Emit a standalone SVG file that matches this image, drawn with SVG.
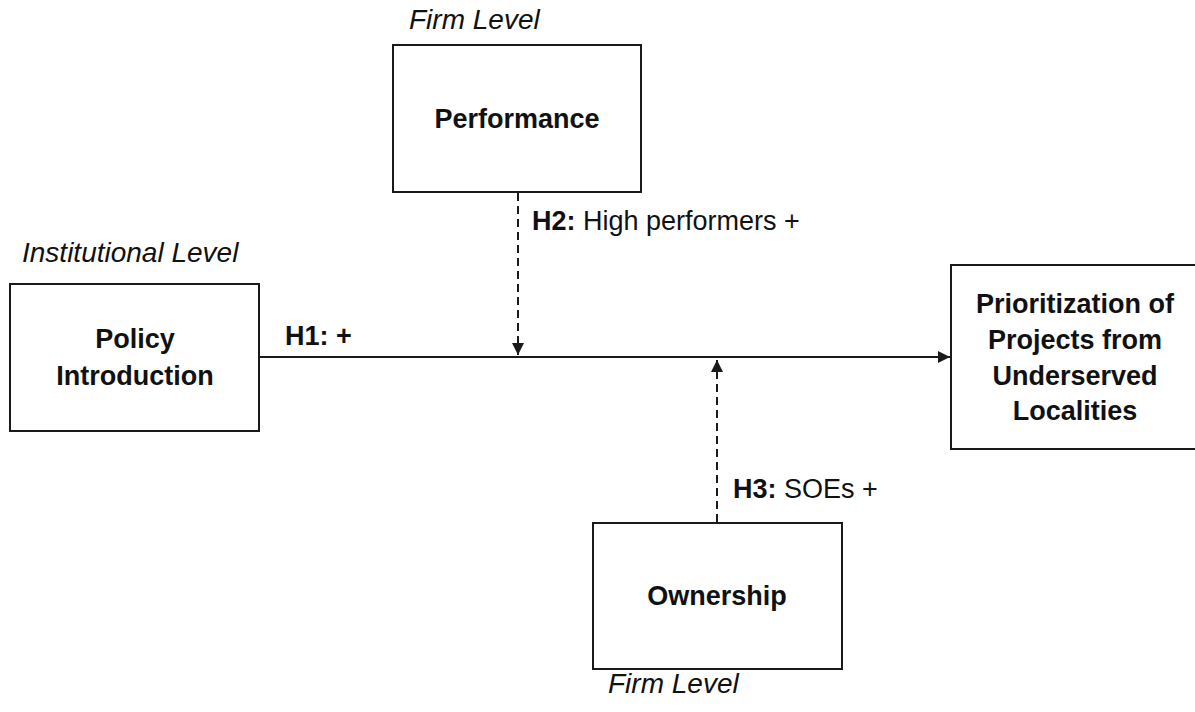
<svg xmlns="http://www.w3.org/2000/svg" width="1195" height="712" viewBox="0 0 1195 712">
  <style>
    .box { fill: #ffffff; stroke: #1a1a1a; stroke-width: 2; }
    .node { font-family: "Liberation Sans", Arial, sans-serif; font-weight: bold; font-size: 27px; fill: #111; text-anchor: middle; }
    .level { font-family: "Liberation Sans", Arial, sans-serif; font-style: italic; font-size: 28px; fill: #111; }
    .hyp { font-family: "Liberation Sans", Arial, sans-serif; font-size: 27px; fill: #111; }
    .hyp .b { font-weight: bold; }
    .solid { stroke: #1a1a1a; stroke-width: 2; fill: none; }
    .dash { stroke: #1a1a1a; stroke-width: 2; fill: none; stroke-dasharray: 8 5; }
  </style>
  <defs>
    <marker id="arrow" viewBox="0 0 10 10" refX="10" refY="5" markerWidth="6" markerHeight="6" markerUnits="strokeWidth" orient="auto">
      <path d="M0,0 L10,5 L0,10 z" fill="#1a1a1a"/>
    </marker>
  </defs>
  <rect width="1195" height="712" fill="#ffffff"/>

  <!-- connectors -->
  <g id="connectors">
    <line class="solid" x1="259" y1="357" x2="950" y2="357" marker-end="url(#arrow)"/>
    <line class="dash" x1="518" y1="193" x2="518" y2="355" marker-end="url(#arrow)"/>
    <line class="dash" x1="717" y1="522" x2="717" y2="360" marker-end="url(#arrow)"/>
  </g>

  <!-- hypothesis labels -->
  <g id="labels">
    <text class="hyp" x="285" y="345"><tspan class="b">H1: +</tspan></text>
    <text class="hyp" x="532" y="230"><tspan class="b">H2:</tspan> High performers +</text>
    <text class="hyp" x="733" y="498"><tspan class="b">H3:</tspan> SOEs +</text>
  </g>

  <g id="performance">
    <text class="level" x="409" y="29">Firm Level</text>
    <rect class="box" x="393" y="45" width="248" height="147"/>
    <text class="node" x="517" y="128">Performance</text>
  </g>

  <g id="policy">
    <text class="level" x="22" y="262">Institutional Level</text>
    <rect class="box" x="10" y="284" width="249" height="147"/>
    <text class="node" x="135" y="348">Policy</text>
    <text class="node" x="135" y="385">Introduction</text>
  </g>

  <g id="prioritization">
    <rect class="box" x="951" y="265" width="250" height="184"/>
    <text class="node" x="1075" y="313">Prioritization of</text>
    <text class="node" x="1075" y="349">Projects from</text>
    <text class="node" x="1075" y="385">Underserved</text>
    <text class="node" x="1075" y="420">Localities</text>
  </g>

  <g id="ownership">
    <rect class="box" x="593" y="523" width="249" height="146"/>
    <text class="node" x="717" y="605">Ownership</text>
    <text class="level" x="608" y="693">Firm Level</text>
  </g>
</svg>
